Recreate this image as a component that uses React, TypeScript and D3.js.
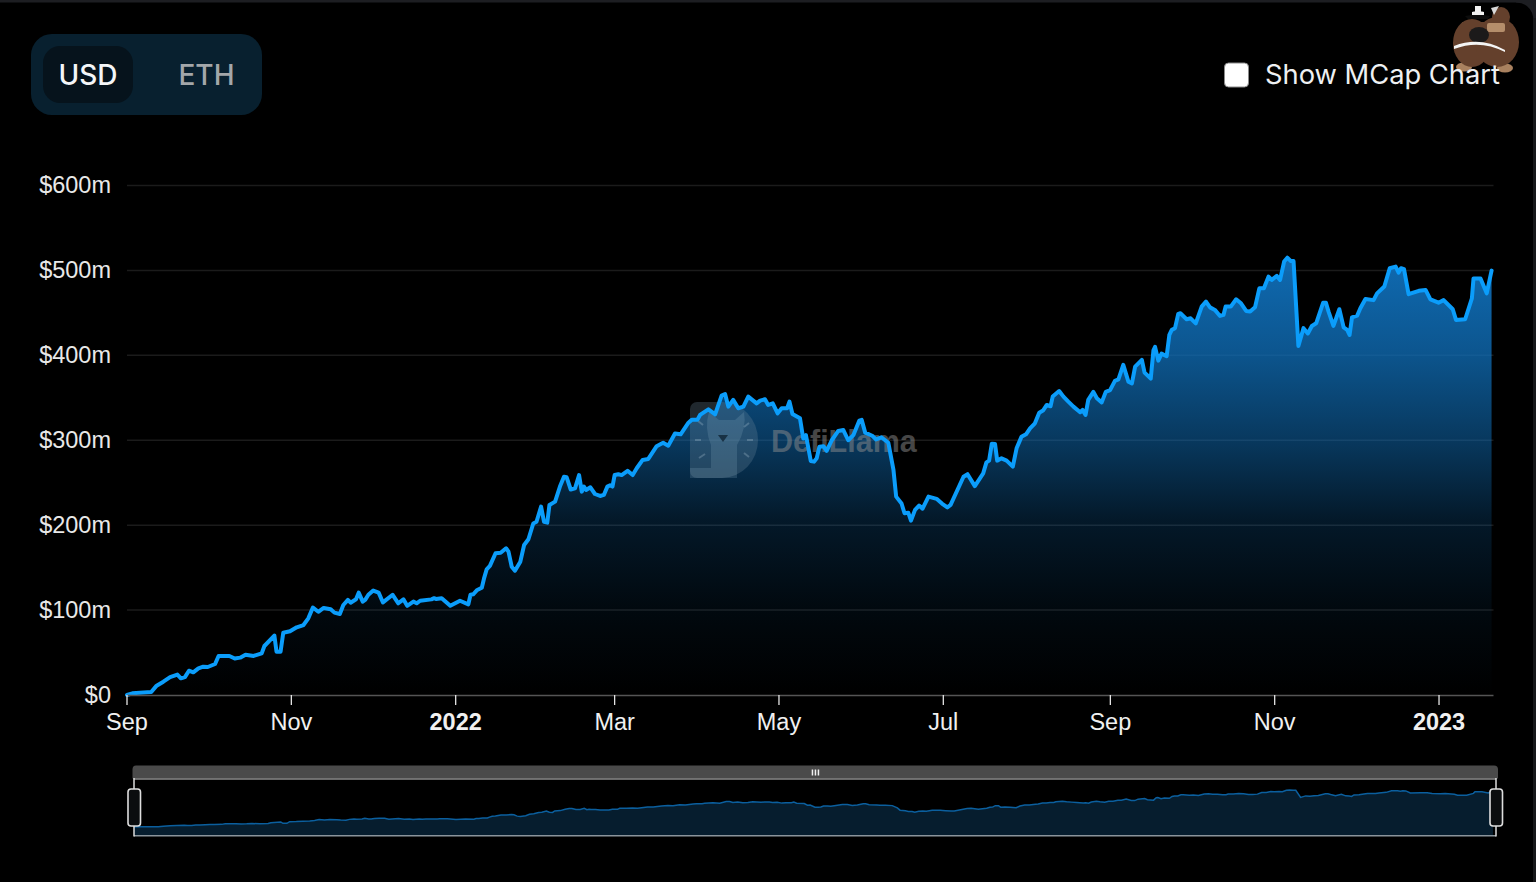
import React from "react";
import * as d3 from "d3";

const days = [0,2,9,11,13.5,16,18.7,20,21.5,23,24.6,26.5,28.3,30,32.7,34,38,40,42,44,47,50,51,54.7,55.5,57,58,60.5,63,65.5,67.3,69,71,73,75.6,77,79,80.3,82,83,85,86,87.5,88.4,89.6,91.4,93.4,95,98.6,100.7,102.6,104,106.3,107.5,108.8,113,114,114.7,116.8,120,123.6,126.7,127.5,128.5,130,131.7,132.5,133.5,134.7,136.8,138.7,140.7,141.6,142.8,144,146,147.4,149,150.8,152,153.7,154.8,156,156.8,158.9,160.7,162.2,163.2,164.7,166.3,167.8,168.8,169.6,170.4,172,173.7,175.6,177,178.3,179.3,180.2,181,182.4,183.6,185.8,187.7,189.2,191.4,193.5,196.6,199,200.9,203.4,205.5,208.4,209.6,211.7,212.7,215.8,218.3,220.7,222,223.2,225,226.9,228.8,230.6,233.7,235,236.8,238,239.7,241.5,243,245,245.9,247,249.8,251,252,253.8,255,256,257,258.5,259.7,261.6,264,265.9,267.7,269.6,271.8,272.7,274,276.8,278,280,282.6,284.5,285.5,287.5,288.6,290,291,292.5,294,295.3,297.5,300.5,302.5,304.5,305.7,310.5,312,314.7,317.8,319,320,321,322.2,323,324.6,326.5,328.8,330.2,332,333.7,335.2,337,338.6,340,341.4,342.8,343.6,346,347.6,349.4,351.3,353.8,354.7,355.8,356.8,358.7,360,361.8,363.3,364.9,366.7,368,369.8,371.7,373,374.2,376.7,377.7,380,381,381.6,382.8,384,385.9,386.9,387.8,389,390.2,391,393.3,394.8,396.7,398.9,400.5,402,403.8,405.7,407,407.8,409.7,411.7,413.5,415.4,416.9,418.7,420.3,422,423.7,424.9,426.8,428,429.5,430.7,432,433,434.8,436.7,438.3,439.8,441.4,444,445,446,447.8,450,451.6,452.9,453.8,454.7,456.6,457.8,459.7,462.7,464,466.7,468.7,470.9,472,472.9,474,475.7,479.5,482,483.8,486.8,488.7,492.1,493.3,496.7,499.2,499.8,502.4,504.7,506.5];
const tvlMillions = [0,2,3.5,11,15.7,21,24,19.6,21,28.6,26.7,31.4,33.4,33,36.5,46,46,43,44,47.5,46,49,57.7,70,51,51,73.4,75,79.7,82.4,90.3,103,98,102.5,101,97,95.4,106,112,108.7,112.7,120.5,110,112,118,123,120.5,109,118,108,112.7,105,110,108,111,112.6,114,113,114,105,111,106.8,118,118.6,123.7,126.4,137,148,152,167,167.6,172.8,168.8,151,146.4,157,176.7,183.4,202,204,221.8,204,203,223.8,227.7,245.4,257,256.4,242,243.4,259,239.5,245.4,241.5,244.6,236.7,234.4,235.6,245.4,247,245.4,259,260,259,264,259,267,276.8,278,293,297,293.6,308,307,320.7,324,324,329.8,336.4,330.5,352.6,354.5,339.6,347.5,337.7,339.6,351.4,343.4,346.6,348.3,341.6,343.4,331.7,337.6,337.6,345.5,331,325.8,302,306,275.6,274.8,278.7,292.5,293,287.4,300,311,312,300,306,323,324,309,305,301,303.5,297,265,233.6,225.5,214,214.7,205.3,218,223,219.5,233.6,231,225.5,221,223.8,257,260,246,261,274,276,296,295.6,276,278.7,276,269,290.5,304,307,314,320,332.5,335,341.6,340,351.4,358,351.4,345.5,339.6,333,335.7,329.8,347.5,357,349.4,344.6,357,359,370,371.7,388.7,369,367,386.7,394.6,379.6,372.7,406,410,393.8,402,399,424,430,432,448.8,449.5,442.5,443.6,437.7,457.4,463.3,456.5,453.5,446.4,447.6,457.4,457.4,466,461.3,452.3,451.5,456.5,478.9,478.9,492.7,488.8,493.5,488.8,510.4,515,511,511,411,432,425.8,434.6,437.7,462,462,451.5,434.6,454.3,432.9,430,424,444.7,446.7,455.4,466.4,465,473,481,502.6,504.5,497.4,502.6,501.4,472,476,477,465.8,462,465,454.3,441.7,442.5,467,490.6,490.6,473,499.8];

const yTicks = [0, 100, 200, 300, 400, 500, 600];
const xTicks: [string, string, boolean][] = [
  ["2021-09-01", "Sep", false],
  ["2021-11-01", "Nov", false],
  ["2022-01-01", "2022", true],
  ["2022-03-01", "Mar", false],
  ["2022-05-01", "May", false],
  ["2022-07-01", "Jul", false],
  ["2022-09-01", "Sep", false],
  ["2022-11-01", "Nov", false],
  ["2023-01-01", "2023", true],
];
const startDate = new Date("2021-09-01T00:00:00Z");
const endDate = new Date("2023-01-22T00:00:00Z");
const toDate = (d: number) => new Date(startDate.getTime() + d * 864e5);

const points = days.map((d, i) => ({ date: toDate(d), value: tvlMillions[i] }));

const SANS = "'Liberation Sans', Arial, sans-serif";
const UI = "Inter, 'Noto Sans', sans-serif";
const gradientStops: [number, number][] = [[0, 0.95], [0.21, 0.77], [0.42, 0.5], [0.6, 0.22], [0.8, 0.08], [1, 0]];
const logoTicks: [number, number, number, number][] = [
  [698, 421, 703, 425], [695, 440, 701, 440], [699, 458, 705, 454],
  [749, 423, 744, 427], [747, 440, 753, 440], [749, 457, 744, 453],
];

export default function App() {
  const x = d3.scaleTime().domain([startDate, endDate]).range([127, 1495.6]);
  const y = d3.scaleLinear().domain([0, 600]).range([695, 185.5]);
  const line = d3.line<(typeof points)[0]>().x(p => x(p.date)).y(p => y(p.value)).curve(d3.curveLinear);
  const area = d3.area<(typeof points)[0]>().x(p => x(p.date)).y0(y(0)).y1(p => y(p.value));

  const mx = d3.scaleTime().domain([startDate, endDate]).range([134, 1497]);
  const my = d3.scaleLinear().domain([0, 500]).range([827, 791]);
  const mLine = d3.line<(typeof points)[0]>().x(p => mx(p.date)).y(p => my(p.value));
  const mArea = d3.area<(typeof points)[0]>().x(p => mx(p.date)).y0(835.5).y1(p => my(p.value));

  return (
    <svg width={1536} height={882} viewBox="0 0 1536 882"
      style={{ position: "absolute", left: 0, top: 0, display: "block", background: "#000" }}>
      <defs>
        <linearGradient id="fill" gradientUnits="userSpaceOnUse" x1="0" x2="0" y1={y(515)} y2={y(0)}>
          {gradientStops.map(([o, a]) => (
            <stop key={o} offset={o} stopColor="#1070bb" stopOpacity={a} />
          ))}
        </linearGradient>
      </defs>

      {/* window frame */}
      <rect x={0} y={0} width={1536} height={2.5} fill="#1d1e22" />
      <rect x={1533} y={0} width={3} height={882} fill="#161719" />
      <path d="M1516 2.5 Q1531 3 1533.5 18 L1536 18 L1536 0 L1516 0 Z" fill="#1d1e22" />

      {/* currency toggle */}
      <rect x={31} y={34} width={231} height={81} rx={21} fill="#08202f" />
      <rect x={43} y={46} width={90} height={57} rx={17} fill="#06131c" />
      <text x={88} y={84.5} textAnchor="middle" fontFamily={UI} fontSize={28} fontWeight={500} fill="#f4f6f8">USD</text>
      <text x={206.5} y={84.5} textAnchor="middle" fontFamily={UI} fontSize={28} fontWeight={500} fill="#a3a7aa">ETH</text>

      {/* grid */}
      {yTicks.slice(1).map(t => (
        <line key={t} x1={127} x2={1493.5} y1={y(t)} y2={y(t)} stroke="#1b1b1b" strokeWidth={1.5} />
      ))}

      {/* area */}
      <path d={area(points) ?? ""} fill="url(#fill)" />

      {/* watermark */}
      <g>
        <path d="M697 402 H722 A36 38 0 0 1 722 478 H697 A7 7 0 0 1 690 471 V409 A7 7 0 0 1 697 402 Z" fill="#6a8598" opacity={0.3} />
        <path d="M711 468 V445 Q704 428 709 412 L719 420 H735 L744 412 Q747 428 737 445 V478 H690 V468 Z" fill="#93b4ca" opacity={0.2} />
        <path d="M718 435 H728 L723 442 Z" fill="#0a1c2b" opacity={0.7} />
        {logoTicks.map(([a, b, c, d]) => (
          <line key={`${a}-${b}`} x1={a} y1={b} x2={c} y2={d} stroke="#a9c2d2" strokeWidth={2} opacity={0.3} />
        ))}
        <text x={771} y={452} fontFamily={SANS} fontWeight={700} fontSize={30.5} fill="#8c8c8c" opacity={0.5}>DefiLlama</text>
      </g>

      {/* series */}
      <path d={line(points) ?? ""} fill="none" stroke="#0b9dfb" strokeWidth={4} strokeLinejoin="round" strokeLinecap="round" />

      {/* y labels */}
      {yTicks.map(t => (
        <text key={t} x={111} y={y(t) + 7.5} textAnchor="end" fontFamily={SANS} fontSize={23.5} fill="#e8e8e8">
          {`$${t === 0 ? 0 : t + "m"}`}
        </text>
      ))}

      {/* x axis */}
      <line x1={127} x2={1493.5} y1={695.5} y2={695.5} stroke="#555" strokeWidth={1.6} />
      {xTicks.map(([d, label, bold]) => {
        const px = x(new Date(d + "T00:00:00Z"));
        return (
          <g key={d}>
            <line x1={px} x2={px} y1={695} y2={705} stroke="#e6e6e6" strokeWidth={1.3} />
            <text x={px} y={730} textAnchor="middle" fontFamily={SANS} fontSize={23.5}
              fontWeight={bold ? 700 : 400} fill="#f0f0f0">{label}</text>
          </g>
        );
      })}

      {/* mascot */}
      <g>
        <ellipse cx={1464} cy={67} rx={8} ry={4.5} fill="#a9815f" />
        <ellipse cx={1505} cy={68} rx={8} ry={4.5} fill="#a9815f" />
        <ellipse cx={1472} cy={43} rx={19} ry={24} fill="#64402c" />
        <ellipse cx={1497} cy={42} rx={22} ry={25} fill="#64402c" />
        <path d="M1462 22 H1495 V40 H1462 Z" fill="#64402c" />
        <ellipse cx={1501} cy={17} rx={9} ry={10} fill="#64402c" />
        <rect x={1487} y={23} width={18} height={9} rx={2} fill="#b58e6b" />
        <ellipse cx={1479} cy={35} rx={10} ry={8} fill="#1c1a1a" />
        <path d="M1454 49 Q1480 39 1505 52 L1505 50 Q1480 36 1454 46 Z" fill="#f4f4f4" />
        <path d="M1465 16 Q1478 13 1490 16 L1488 19 H1468 Z" fill="#0c0c0c" />
        <path d="M1472 12 Q1478 10 1484 12 V15 H1472 Z M1475 6 h6 v6 h-6 z" fill="#f2f2f2" />
        <path d="M1491 8 L1499 6 L1494 15 Z" fill="#d8d8d8" />
      </g>

      {/* checkbox */}
      <rect x={1224.5} y={63} width={24} height={24} rx={4} fill="#fff" stroke="#8a8a8a" strokeWidth={1} />
      <text x={1265} y={84} fontFamily={UI} fontSize={27.3} fill="#eef0f2">Show MCap Chart</text>

      {/* brush */}
      <path d="M136 765.5 H1494 Q1498 765.5 1498 769.5 V778.5 H132.5 V769.5 Q132.5 765.5 136 765.5 Z" fill="#4a4a4a" />
      {[-3, 0, 3].map(o => (
        <rect key={o} x={814.7 + o} y={769.5} width={1.5} height={6} fill="#f0f0f0" />
      ))}
      <path d={mArea(points) ?? ""} fill="#061d2e" />
      <path d={mLine(points) ?? ""} fill="none" stroke="#0b5f9e" strokeWidth={1.5} />
      <line x1={134} x2={1496} y1={779} y2={779} stroke="#8c8c8c" strokeWidth={1.5} />
      <line x1={134} x2={1496} y1={835.7} y2={835.7} stroke="#8a949b" strokeWidth={1.5} />
      {[134, 1496].map(px => (
        <g key={px}>
          <line x1={px} x2={px} y1={778} y2={836.5} stroke="#dcdcdc" strokeWidth={1.5} />
          <rect x={px - 6} y={789} width={12.5} height={37} rx={3} fill="#0b0d0f" stroke="#dedede" strokeWidth={1.6} />
        </g>
      ))}
    </svg>
  );
}
